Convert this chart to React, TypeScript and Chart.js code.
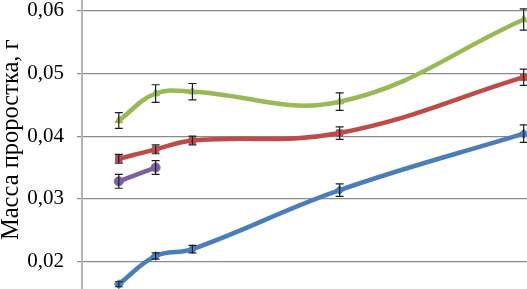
import React, { useEffect, useRef } from "react";
import { Chart, registerables } from "chart.js";

Chart.register(...registerables);

const days = [1, 2, 3, 7, 12];
const blueValues = [0.0164, 0.0209, 0.022, 0.0314, 0.0404];
const blueErrors = [0.0004, 0.0005, 0.0006, 0.001, 0.0014];
const redValues = [0.0364, 0.0379, 0.0393, 0.0405, 0.0494];
const redErrors = [0.0007, 0.0007, 0.0007, 0.001, 0.0013];
const greenValues = [0.0425, 0.0468, 0.0471, 0.0455, 0.0586];
const greenErrors = [0.00125, 0.0014, 0.0013, 0.0014, 0.0017];
const purpleDays = [1, 2];
const purpleValues = [0.0328, 0.035];
const purpleErrors = [0.0011, 0.0011];
const yTitle = "Масса проростка, г";

const toPoints = (xs: number[], ys: number[]) => ys.map((y, i) => ({ x: xs[i], y }));

const errorBarPlugin = {
  id: "errorBars",
  afterDatasetsDraw(chart: any) {
    const ctx = chart.ctx;
    const xs = chart.scales.x;
    const ys = chart.scales.y;
    ctx.save();
    ctx.strokeStyle = "#1c1c2c";
    ctx.lineWidth = 1.2;
    chart.data.datasets.forEach((ds: any) => {
      const errs: number[] = ds.errors || [];
      ds.data.forEach((p: any, i: number) => {
        const e = errs[i];
        if (!e) return;
        const px = xs.getPixelForValue(p.x);
        const top = ys.getPixelForValue(p.y + e);
        const bot = ys.getPixelForValue(p.y - e);
        ctx.beginPath();
        ctx.moveTo(px, top);
        ctx.lineTo(px, bot);
        ctx.moveTo(px - 4, top);
        ctx.lineTo(px + 4, top);
        ctx.moveTo(px - 4, bot);
        ctx.lineTo(px + 4, bot);
        ctx.stroke();
      });
    });
    ctx.restore();
  },
};

export default function App() {
  const ref = useRef<HTMLCanvasElement>(null);
  useEffect(() => {
    if (!ref.current) return;
    const mk = (label: string, xs: number[], ys: number[], errs: number[], color: string, style: string) => ({
      label,
      data: toPoints(xs, ys),
      errors: errs,
      borderColor: color,
      backgroundColor: color,
      borderWidth: 4.5,
      pointStyle: style,
      pointRadius: 4.5,
      pointBorderWidth: 1,
      tension: 0.4,
      fill: false,
    });
    const chart = new Chart(ref.current, {
      type: "line",
      data: {
        datasets: [
          mk("blue", days, blueValues, blueErrors, "#4a7ebb", "rectRot"),
          mk("red", days, redValues, redErrors, "#be4b48", "rect"),
          mk("green", days, greenValues, greenErrors, "#98b954", "triangle"),
          mk("purple", purpleDays, purpleValues, purpleErrors, "#7d60a0", "circle"),
        ] as any,
      },
      options: {
        animation: false,
        responsive: false,
        maintainAspectRatio: false,
        layout: { padding: { top: 30, left: 0, right: 0, bottom: 0 } },
        plugins: { legend: { display: false }, tooltip: { enabled: false } },
        scales: {
          x: {
            type: "linear",
            min: 0,
            max: 13,
            ticks: { display: false },
            grid: { display: false },
            border: { display: false },
            afterFit: (s: any) => {
              s.height = 10;
            },
          },
          y: {
            min: 0.01,
            max: 0.06888,
            ticks: {
              stepSize: 0.01,
              padding: 13,
              color: "#000",
              font: { family: "'Liberation Serif', 'Times New Roman', serif", size: 21 },
              callback: (v: any) => Number(v).toFixed(2).replace(".", ","),
            },
            grid: { color: "#8a8a8a", lineWidth: 1.2, tickLength: 5 },
            border: { color: "#b4b4b4", width: 2 },
            title: {
              display: true,
              text: yTitle,
              color: "#000",
              padding: { top: 0, bottom: 0 },
              font: { family: "'Liberation Serif', 'Times New Roman', serif", size: 24.5, lineHeight: 0.95 },
            },
            afterFit: (s: any) => {
              s.width = 82;
            },
          },
        },
      } as any,
      plugins: [errorBarPlugin],
    });
    return () => chart.destroy();
  }, []);
  return (
    <div
      style={{
        position: "fixed",
        left: 0,
        top: 0,
        width: 527,
        height: 289,
        overflow: "hidden",
        background: "#fff",
      }}
    >
      <canvas
        ref={ref}
        width={566}
        height={425}
        style={{ position: "absolute", left: 0, top: -75, width: 566, height: 425 }}
      />
    </div>
  );
}
